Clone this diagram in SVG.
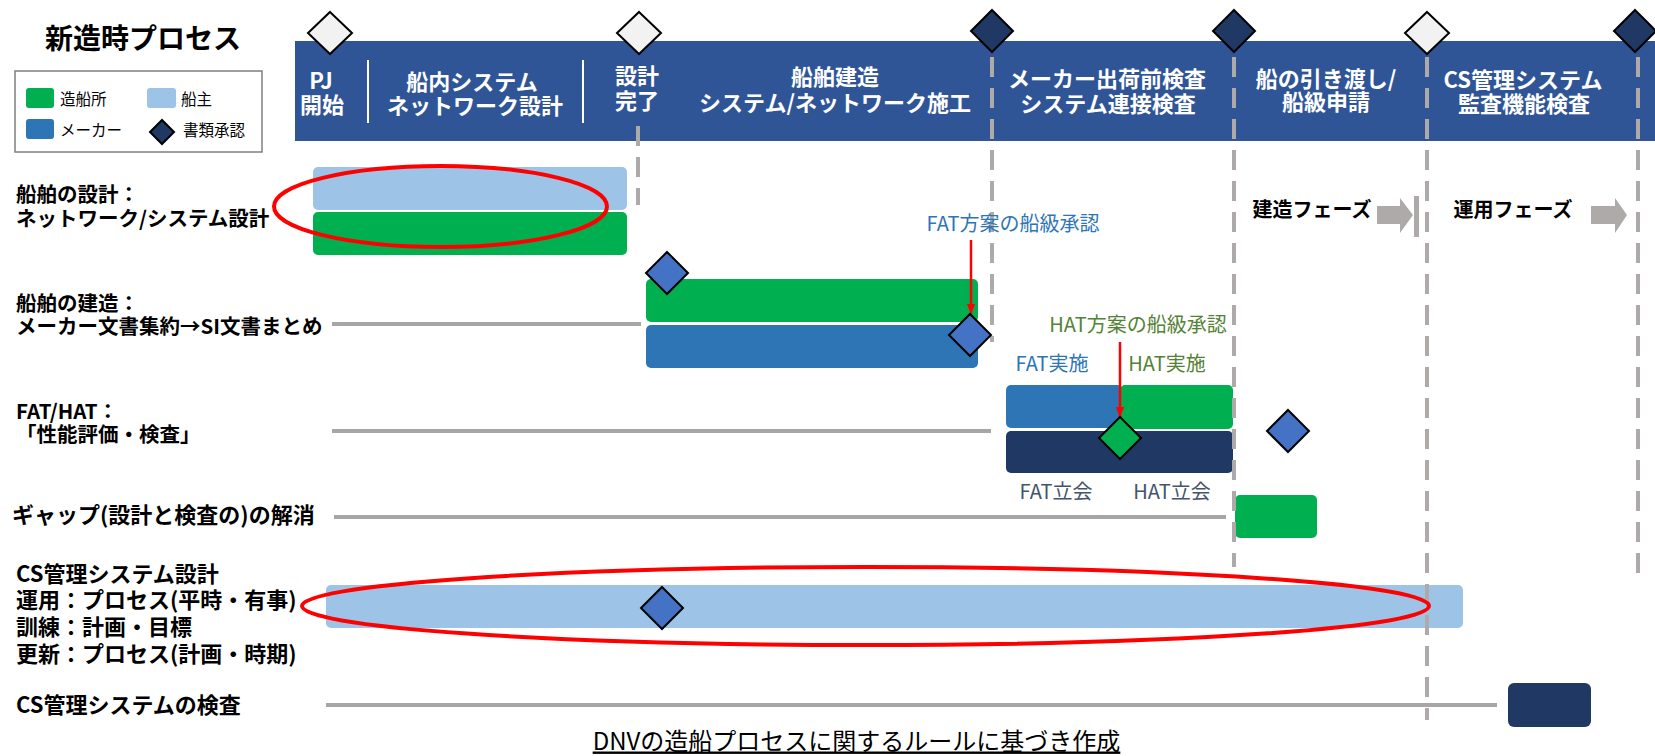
<svg xmlns="http://www.w3.org/2000/svg" width="1655" height="756" viewBox="0 0 1655 756">
<style>
text { font-family: "Noto Sans CJK JP", "Noto Sans", sans-serif; dominant-baseline: central; }
.hd { fill: #ffffff; font-weight: 700; font-size: 22px; text-anchor: middle; }
.lbl { fill: #000000; font-weight: 700; font-size: 20.5px; }
.lbl-l { fill: #000000; font-weight: 700; font-size: 22px; }
.leg { fill: #000000; font-size: 15.5px; }
.ann { font-size: 20px; text-anchor: middle; }
.blue-t { fill: #2e75b6; }
.green-t { fill: #548235; }
.navy-t { fill: #44546a; }
.phase { fill: #000000; font-weight: 700; font-size: 20px; text-anchor: middle; }
.dash { stroke: #aeaaaa; stroke-width: 4; stroke-dasharray: 20 11; fill: none; }
.hl { stroke: #a6a6a6; stroke-width: 4; fill: none; }
.ell { fill: none; stroke: #ff0000; stroke-width: 4; }
.dm { stroke: #000000; stroke-width: 2; stroke-linejoin: miter; }
.arrow { stroke: #ff0000; stroke-width: 2.5; fill: none; marker-end: url(#redhead); }
.c-green { fill: #00b050; }
.c-lblue { fill: #9dc3e6; }
.c-blue { fill: #2e75b6; }
.c-navy { fill: #203864; }
.d-light { fill: #f2f2f2; }
.d-dark { fill: #203864; }
.d-blue { fill: #4472c4; }
.d-green { fill: #00b050; }
.gray-a { fill: #aeaaaa; }
</style>
<defs>
<marker id="redhead" markerUnits="userSpaceOnUse" markerWidth="10" markerHeight="12" viewBox="0 0 12 10" refX="12" refY="5" orient="auto">
<path d="M0,0 L12,5 L0,10 z" fill="#ff0000"/>
</marker>
</defs>
<rect width="1655" height="756" fill="#ffffff"/>

<g id="title">
<text x="45" y="37" style="font-size:28px;font-weight:700;fill:#000">新造時プロセス</text>
</g>

<g id="legend">
<rect x="15" y="71" width="247" height="81" fill="#ffffff" stroke="#7f7f7f" stroke-width="1.5"/>
<rect x="26" y="88" width="28" height="20" rx="3" class="c-green"/>
<text x="60" y="98" class="leg">造船所</text>
<rect x="147" y="88" width="29" height="20" rx="3" class="c-lblue"/>
<text x="181" y="98" class="leg">船主</text>
<rect x="26" y="119" width="28" height="20" rx="3" class="c-blue"/>
<text x="60" y="129" class="leg">メーカー</text>
<polygon points="162,120 174,132 162,144 150,132" class="d-dark dm"/>
<text x="183" y="129" class="leg">書類承認</text>
</g>

<g id="header">
<rect x="295" y="41" width="1360" height="100" fill="#2f5597"/>
<line x1="368" y1="60" x2="368" y2="123" stroke="#ffffff" stroke-width="2"/>
<line x1="583" y1="60" x2="583" y2="123" stroke="#ffffff" stroke-width="2"/>
<text class="hd"><tspan x="321" y="79">PJ</tspan><tspan x="322" y="103">開始</tspan></text>
<text class="hd"><tspan x="472" y="80">船内システム</tspan><tspan x="475" y="104">ネットワーク設計</tspan></text>
<text class="hd"><tspan x="637" y="74">設計</tspan><tspan x="637" y="99">完了</tspan></text>
<text class="hd"><tspan x="835" y="75">船舶建造</tspan><tspan x="835" y="101">システム/ネットワーク施工</tspan></text>
<text class="hd"><tspan x="1107" y="77">メーカー出荷前検査</tspan><tspan x="1108" y="102">システム連接検査</tspan></text>
<text class="hd"><tspan x="1326" y="77">船の引き渡し/</tspan><tspan x="1326" y="100">船級申請</tspan></text>
<text class="hd"><tspan x="1523" y="78">CS管理システム</tspan><tspan x="1524" y="102">監査機能検査</tspan></text>
</g>

<g id="row-design">
<text class="lbl"><tspan x="16" y="193">船舶の設計：</tspan><tspan x="16" y="217">ネットワーク/システム設計</tspan></text>
<rect x="313" y="167" width="314" height="43" rx="5" class="c-lblue"/>
<rect x="313" y="212" width="314" height="43" rx="5" class="c-green"/>
</g>

<g id="row-build">
<text class="lbl"><tspan x="16" y="302">船舶の建造：</tspan><tspan x="16" y="325">メーカー文書集約→SI文書まとめ</tspan></text>
<rect x="646" y="279" width="332" height="43" rx="5" class="c-green"/>
<rect x="646" y="325" width="332" height="43" rx="5" class="c-blue"/>
</g>

<g id="row-fathat">
<text class="lbl"><tspan x="16" y="410">FAT/HAT：</tspan><tspan x="16" y="433">「性能評価・検査」</tspan></text>
<rect x="1006" y="385" width="116" height="43" rx="5" class="c-blue"/>
<rect x="1120" y="385" width="113" height="44" rx="5" class="c-green"/>
<rect x="1006" y="431" width="227" height="42" rx="5" class="c-navy"/>
</g>

<g id="row-gap">
<text class="lbl-l" x="12" y="513">ギャップ(設計と検査の)の解消</text>
<rect x="1235" y="495" width="82" height="43" rx="5" class="c-green"/>
</g>

<g id="row-csdesign">
<text class="lbl-l"><tspan x="16" y="572">CS管理システム設計</tspan><tspan x="16" y="598">運用：プロセス(平時・有事)</tspan><tspan x="16" y="625">訓練：計画・目標</tspan><tspan x="16" y="652">更新：プロセス(計画・時期)</tspan></text>
<rect x="326" y="585" width="1137" height="43" rx="5" class="c-lblue"/>
</g>

<g id="row-csinspect">
<text class="lbl-l" x="16" y="703">CS管理システムの検査</text>
<rect x="1508" y="683" width="83" height="44" rx="6" class="c-navy"/>
</g>

<g id="milestones">
<line class="dash" x1="638" y1="126" x2="638" y2="205"/>
<line class="dash" x1="992" y1="57" x2="992" y2="342"/>
<line class="dash" x1="1234" y1="57" x2="1234" y2="567"/>
<line class="dash" x1="1427" y1="57" x2="1427" y2="720"/>
<line class="dash" x1="1638" y1="57" x2="1638" y2="582"/>
</g>

<g id="connectors">
<line class="hl" x1="332" y1="324" x2="641" y2="324"/>
<line class="hl" x1="332" y1="431" x2="991" y2="431"/>
<line class="hl" x1="334" y1="517" x2="1226" y2="517"/>
<line class="hl" x1="326" y1="705" x2="1497" y2="705"/>
<line class="arrow" x1="971" y1="240" x2="971" y2="314"/>
<line class="arrow" x1="1120" y1="342" x2="1120" y2="417"/>
</g>

<g id="annotations">
<text class="ann blue-t" x="1013" y="222">FAT方案の船級承認</text>
<text class="ann green-t" x="1138" y="323">HAT方案の船級承認</text>
<text class="ann blue-t" x="1052" y="362">FAT実施</text>
<text class="ann green-t" x="1167" y="362">HAT実施</text>
<text class="ann navy-t" x="1056" y="490">FAT立会</text>
<text class="ann navy-t" x="1172" y="490">HAT立会</text>
</g>

<g id="phases">
<text class="phase" x="1312" y="208">建造フェーズ</text>
<polygon class="gray-a" points="1377,206 1400,206 1400,198 1413,215 1400,233 1400,224 1377,224"/>
<rect x="1414" y="196" width="5" height="41" class="gray-a"/>
<text class="phase" x="1513" y="208">運用フェーズ</text>
<polygon class="gray-a" points="1591,206 1615,206 1615,198 1627,215 1615,233 1615,224 1591,224"/>
</g>

<g id="diamonds">
<polygon points="330,12 352,33 330,54 308,33" class="d-light dm"/>
<polygon points="639,12 661,33 639,54 617,33" class="d-light dm"/>
<polygon points="992,10 1013,31 992,52 971,31" class="d-dark dm"/>
<polygon points="1234,10 1255,31 1234,52 1213,31" class="d-dark dm"/>
<polygon points="1427,12 1449,33 1427,54 1405,33" class="d-light dm"/>
<polygon points="1635,10 1656,31 1635,52 1614,31" class="d-dark dm"/>
<polygon points="667,252 688,273 667,294 646,273" class="d-blue dm"/>
<polygon points="970,314 991,335 970,356 949,335" class="d-blue dm"/>
<polygon points="1120,417 1141,438 1120,459 1099,438" class="d-green dm"/>
<polygon points="1288,410 1309,431 1288,452 1267,431" class="d-blue dm"/>
<polygon points="662,587 683,608 662,629 641,608" class="d-blue dm"/>
</g>

<g id="highlights">
<ellipse class="ell" cx="440.5" cy="206.5" rx="166.5" ry="40.5"/>
<ellipse class="ell" cx="865.5" cy="606" rx="563.5" ry="39"/>
</g>

<g id="footnote">
<text x="856.5" y="739" style="font-size:24px;fill:#000;text-anchor:middle;text-decoration:underline">DNVの造船プロセスに関するルールに基づき作成</text>
</g>
</svg>
